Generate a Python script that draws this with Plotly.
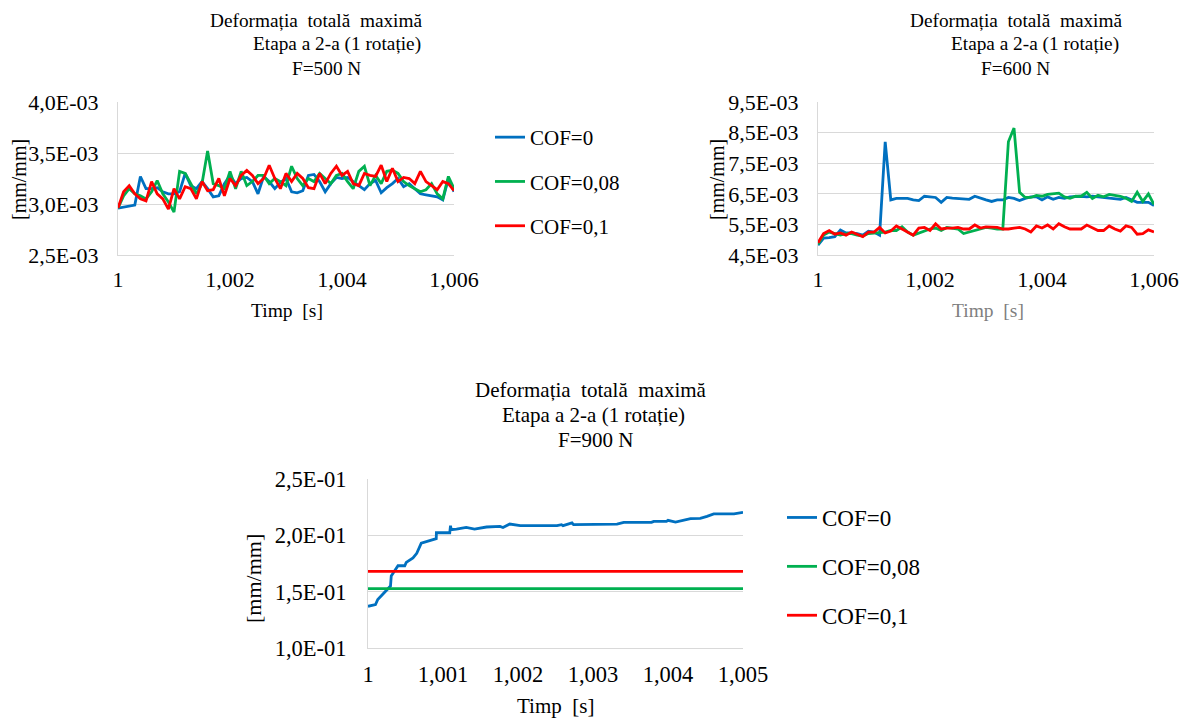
import plotly.graph_objects as go

# ---------------- DATA ----------------
time_s = [1.0000, 1.0001, 1.0002, 1.0003, 1.0004, 1.0005, 1.0006, 1.0007, 1.0008, 1.0009,
          1.0010, 1.0011, 1.0012, 1.0013, 1.0014, 1.0015, 1.0016, 1.0017, 1.0018, 1.0019,
          1.0020, 1.0021, 1.0022, 1.0023, 1.0024, 1.0025, 1.0026, 1.0027, 1.0028, 1.0029,
          1.0030, 1.0031, 1.0032, 1.0033, 1.0034, 1.0035, 1.0036, 1.0037, 1.0038, 1.0039,
          1.0040, 1.0041, 1.0042, 1.0043, 1.0044, 1.0045, 1.0046, 1.0047, 1.0048, 1.0049,
          1.0050, 1.0051, 1.0052, 1.0053, 1.0054, 1.0055, 1.0056, 1.0057, 1.0058, 1.0059,
          1.0060]

# F=500 N  (values in 1E-03 mm/mm)
f500_cof0 = [2.96, 2.97, 2.98, 2.99, 3.27, 3.15, 3.15, 3.16, 3.12, 3.10,
             3.10, 3.12, 3.30, 3.18, 3.15, 3.22, 3.15, 3.07, 3.08, 3.20,
             3.28, 3.20, 3.25, 3.26, 3.22, 3.10, 3.27, 3.22, 3.15, 3.21,
             3.25, 3.12, 3.11, 3.13, 3.28, 3.29, 3.22, 3.12, 3.20, 3.26,
             3.25, 3.26, 3.22, 3.18, 3.14, 3.20, 3.23, 3.11, 3.16, 3.20,
             3.25, 3.17, 3.20, 3.15, 3.10, 3.09, 3.08, 3.07, 3.04, 3.25,
             3.12]
f500_cof008 = [2.96, 3.08, 3.15, 3.10, 3.08, 3.05, 3.12, 3.23, 3.10, 3.02,
               2.92, 3.32, 3.30, 3.20, 3.10, 3.20, 3.52, 3.20, 3.18, 3.15,
               3.32, 3.15, 3.32, 3.18, 3.22, 3.28, 3.28, 3.20, 3.25, 3.22,
               3.18, 3.37, 3.25, 3.18, 3.25, 3.22, 3.30, 3.25, 3.20, 3.28,
               3.30, 3.22, 3.15, 3.32, 3.37, 3.18, 3.28, 3.20, 3.32, 3.33,
               3.30, 3.22, 3.18, 3.15, 3.12, 3.14, 3.20, 3.10, 3.05, 3.27,
               3.15]
f500_cof01 = [2.96, 3.12, 3.18, 3.10, 3.05, 3.03, 3.22, 3.10, 3.05, 2.95,
              3.15, 3.05, 3.17, 3.15, 3.05, 3.22, 3.13, 3.14, 3.25, 3.08,
              3.25, 3.18, 3.28, 3.33, 3.28, 3.20, 3.25, 3.38, 3.25, 3.15,
              3.30, 3.22, 3.30, 3.25, 3.16, 3.15, 3.30, 3.20, 3.30, 3.37,
              3.28, 3.32, 3.20, 3.18, 3.30, 3.28, 3.27, 3.38, 3.22, 3.35,
              3.22, 3.26, 3.25, 3.20, 3.32, 3.22, 3.18, 3.14, 3.22, 3.20,
              3.13]

# F=600 N  (values in 1E-03 mm/mm)
f600_cof0 = [4.82, 5.05, 5.07, 5.10, 5.32, 5.22, 5.22, 5.20, 5.15, 5.28,
             5.25, 5.15, 8.20, 6.30, 6.35, 6.35, 6.35, 6.30, 6.28, 6.42,
             6.40, 6.38, 6.22, 6.38, 6.36, 6.35, 6.35, 6.32, 6.42, 6.35,
             6.30, 6.25, 6.30, 6.30, 6.38, 6.35, 6.28, 6.35, 6.40, 6.40,
             6.30, 6.40, 6.32, 6.38, 6.35, 6.40, 6.42, 6.42, 6.40, 6.42,
             6.40, 6.38, 6.35, 6.33, 6.32, 6.38, 6.30, 6.22, 6.22, 6.22,
             6.12]
f600_cof008 = [4.85, 5.15, 5.25, 5.20, 5.15, 5.20, 5.20, 5.15, 5.12, 5.20,
               5.22, 5.25, 5.25, 5.30, 5.30, 5.42, 5.25, 5.15, 5.22, 5.30,
               5.35, 5.38, 5.30, 5.40, 5.38, 5.35, 5.20, 5.25, 5.30, 5.35,
               5.40, 5.38, 5.35, 5.35, 8.20, 8.65, 6.55, 6.38, 6.38, 6.45,
               6.42, 6.48, 6.50, 6.52, 6.40, 6.35, 6.42, 6.42, 6.55, 6.35,
               6.45, 6.40, 6.48, 6.45, 6.42, 6.35, 6.25, 6.55, 6.25, 6.50,
               6.15]
f600_cof01 = [4.90, 5.20, 5.30, 5.18, 5.22, 5.15, 5.25, 5.18, 5.10, 5.25,
              5.25, 5.40, 5.22, 5.28, 5.45, 5.35, 5.25, 5.15, 5.38, 5.40,
              5.30, 5.52, 5.35, 5.38, 5.38, 5.40, 5.35, 5.35, 5.48, 5.38,
              5.42, 5.42, 5.40, 5.35, 5.35, 5.38, 5.40, 5.35, 5.25, 5.45,
              5.38, 5.48, 5.35, 5.52, 5.42, 5.35, 5.35, 5.35, 5.48, 5.40,
              5.30, 5.30, 5.45, 5.35, 5.28, 5.45, 5.40, 5.18, 5.20, 5.32,
              5.25]

# F=900 N
f900_time_cof0 = [1.0, 1.0001, 1.00013, 1.00022, 1.0003, 1.00031, 1.00038, 1.0004, 1.00049,
                  1.00051, 1.0006, 1.00065, 1.00071, 1.0008, 1.00085, 1.00091, 1.000912,
                  1.00109, 1.0011, 1.00111, 1.00118, 1.00131, 1.00142, 1.00158, 1.00176,
                  1.0018, 1.00189, 1.00203, 1.00252, 1.00258, 1.0026, 1.00272, 1.00274,
                  1.00332, 1.00341, 1.00378, 1.00381, 1.00398, 1.004, 1.0041, 1.0043,
                  1.00443, 1.00452, 1.00461, 1.00488, 1.005]
f900_cof0 = [0.137, 0.1385, 0.143, 0.149, 0.155, 0.164, 0.171, 0.173, 0.173,
             0.176, 0.180, 0.184, 0.193, 0.195, 0.196, 0.197, 0.2023,
             0.2023, 0.2086, 0.205, 0.2056, 0.207, 0.2056, 0.2074, 0.208,
             0.207, 0.210, 0.2086, 0.2086, 0.2095, 0.2086, 0.211, 0.2095,
             0.210, 0.2115, 0.2115, 0.2124, 0.2124, 0.2133, 0.2118, 0.2148,
             0.215, 0.2168, 0.219, 0.219, 0.2204]
f900_time_flat = [1.0, 1.001, 1.002, 1.003, 1.004, 1.005]
f900_cof008 = [0.1527, 0.1527, 0.1527, 0.1527, 0.1527, 0.1527]
f900_cof01 = [0.168, 0.168, 0.168, 0.168, 0.168, 0.168]

series_names = ["COF=0", "COF=0,08", "COF=0,1"]
colors = ["#0070C0", "#00B050", "#FF0000"]

x_ticks_6 = [1, 1.002, 1.004, 1.006]
x_text_6 = ["1", "1,002", "1,004", "1,006"]
x_ticks_5 = [1, 1.001, 1.002, 1.003, 1.004, 1.005]
x_text_5 = ["1", "1,001", "1,002", "1,003", "1,004", "1,005"]
y_ticks_500 = [0.0025, 0.0030, 0.0035, 0.0040]
y_text_500 = ["2,5E-03", "3,0E-03", "3,5E-03", "4,0E-03"]
y_ticks_600 = [0.0045, 0.0055, 0.0065, 0.0075, 0.0085, 0.0095]
y_text_600 = ["4,5E-03", "5,5E-03", "6,5E-03", "7,5E-03", "8,5E-03", "9,5E-03"]
y_ticks_900 = [0.10, 0.15, 0.20, 0.25]
y_text_900 = ["1,0E-01", "1,5E-01", "2,0E-01", "2,5E-01"]

title_lines = ["Deformația  totală  maximă", "Etapa a 2-a (1 rotație)"]
force_labels = ["F=500 N", "F=600 N", "F=900 N"]

# ---------------- FIGURE ----------------
# The page body has an 8px margin, so the figure is sized to fill the rest of
# the 1189x722 window and positions below are given in window pixels.
OFF = 8
W, H = 1189 - OFF, 722 - OFF
FONT = "Liberation Serif"
GRID = "#d9d9d9"
LW = 2.8

def px(x):
    return (x - OFF) / W

def py(y):
    return 1 - (y - OFF) / H

fig = go.Figure()

scale = 1e-3
for i, (vals, name) in enumerate(zip([f500_cof0, f500_cof008, f500_cof01], series_names)):
    fig.add_trace(go.Scatter(x=time_s, y=[v * scale for v in vals], mode="lines", name=name,
                             line=dict(color=colors[i], width=LW), xaxis="x", yaxis="y",
                             legend="legend", legendgroup="a" + str(i)))
for i, vals in enumerate([f600_cof0, f600_cof008, f600_cof01]):
    fig.add_trace(go.Scatter(x=time_s, y=[v * scale for v in vals], mode="lines",
                             name=series_names[i], showlegend=False,
                             line=dict(color=colors[i], width=LW), xaxis="x2", yaxis="y2"))
fig.add_trace(go.Scatter(x=f900_time_cof0, y=f900_cof0, mode="lines", name=series_names[0],
                         line=dict(color=colors[0], width=LW), xaxis="x3", yaxis="y3",
                         legend="legend2", legendgroup="b0"))
fig.add_trace(go.Scatter(x=f900_time_flat, y=f900_cof008, mode="lines", name=series_names[1],
                         line=dict(color=colors[1], width=LW), xaxis="x3", yaxis="y3",
                         legend="legend2", legendgroup="b1"))
fig.add_trace(go.Scatter(x=f900_time_flat, y=f900_cof01, mode="lines", name=series_names[2],
                         line=dict(color=colors[2], width=LW), xaxis="x3", yaxis="y3",
                         legend="legend2", legendgroup="b2"))

tickfont = dict(family=FONT, size=22, color="#000000")
tickfont3 = dict(family=FONT, size=22.5, color="#000000")

def xax(domain, anchor, rng, tv, tt, tf, standoff):
    return dict(domain=domain, anchor=anchor, range=rng, tickvals=tv, ticktext=tt,
                showgrid=False, zeroline=False, showline=True, linecolor=GRID, linewidth=1,
                ticks="", tickfont=tf, ticklabelstandoff=standoff, fixedrange=True,
                automargin=False)

def yax(domain, anchor, rng, tv, tt, tf, standoff):
    return dict(domain=domain, anchor=anchor, range=rng, tickvals=tv, ticktext=tt,
                showgrid=True, gridcolor=GRID, gridwidth=1, zeroline=False,
                showline=True, linecolor=GRID, linewidth=1,
                ticks="", tickfont=tf, ticklabelstandoff=standoff, fixedrange=True,
                automargin=False)

fig.update_layout(
    template="none",
    width=W, height=H, autosize=False,
    margin=dict(l=0, r=0, t=0, b=0, pad=0),
    paper_bgcolor="white", plot_bgcolor="white",
    font=dict(family=FONT, size=18, color="#000000"),
    xaxis=xax([px(118), px(454)], "y", [1, 1.006], x_ticks_6, x_text_6, tickfont, 5),
    yaxis=yax([py(255), py(102)], "x", [0.0025, 0.0040], y_ticks_500, y_text_500, tickfont, 14),
    xaxis2=xax([px(818), px(1154)], "y2", [1, 1.006], x_ticks_6, x_text_6, tickfont, 5),
    yaxis2=yax([py(255), py(102)], "x2", [0.0045, 0.0095], y_ticks_600, y_text_600, tickfont, 14),
    xaxis3=xax([px(368), px(743)], "y3", [1, 1.005], x_ticks_5, x_text_5, tickfont3, 6),
    yaxis3=yax([py(648), py(479)], "x3", [0.10, 0.25], y_ticks_900, y_text_900, tickfont3, 16),
    legend=dict(x=px(490), y=py(117), xanchor="left", yanchor="top",
                font=dict(family=FONT, size=21, color="#000000"),
                bgcolor="rgba(0,0,0,0)", tracegroupgap=14, itemwidth=30),
    legend2=dict(x=px(782), y=py(496), xanchor="left", yanchor="top",
                 font=dict(family=FONT, size=23, color="#000000"),
                 bgcolor="rgba(0,0,0,0)", tracegroupgap=16, itemwidth=30),
)

annotations = []
def title_block(centers, ys, force, size):
    texts = [title_lines[0], title_lines[1], force]
    for cx, cy, t in zip(centers, ys, texts):
        annotations.append(dict(x=px(cx), y=py(cy), xref="paper", yref="paper",
                                text=t, showarrow=False, xanchor="center", yanchor="middle",
                                font=dict(family=FONT, size=size, color="#000000")))

title_block([316, 337, 326], [20, 44, 68], force_labels[0], 19.3)
title_block([1016, 1035, 1015], [20, 44, 68], force_labels[1], 19.3)
title_block([591, 593, 595], [390, 415, 440], force_labels[2], 21)

def axis_title(x, y, text, angle=0, color="#000000", size=18):
    annotations.append(dict(x=px(x), y=py(y), xref="paper", yref="paper", text=text,
                            showarrow=False, xanchor="center", yanchor="middle",
                            textangle=angle,
                            font=dict(family=FONT, size=size, color=color)))

axis_title(287, 310, "Timp  [s]", size=19.5)
axis_title(988, 310, "Timp  [s]", color="#7f7f7f", size=19.5)
axis_title(555, 706, "Timp  [s]", size=21)
axis_title(19, 180, "[mm/mm]", angle=-90, size=20)
axis_title(717, 180, "[mm/mm]", angle=-90, size=20)
axis_title(253, 578, "[mm/mm]", angle=-90, size=22)

fig.update_layout(annotations=annotations)

fig.write_html("out.html")
